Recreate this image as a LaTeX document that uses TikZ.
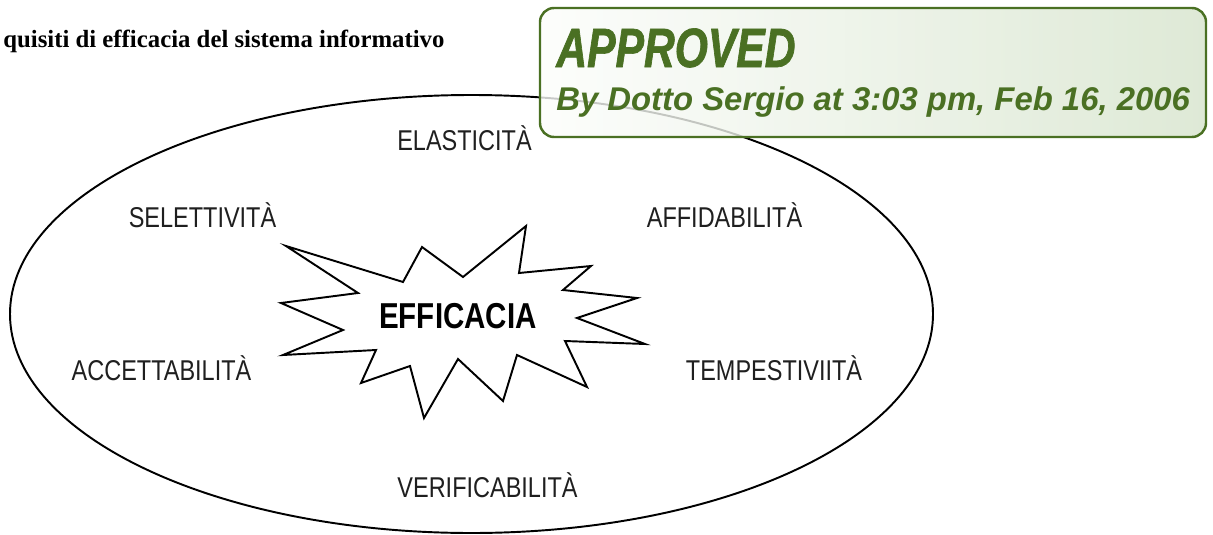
\documentclass[tikz,border=0pt]{standalone}
\usepackage{fontspec}
\setmainfont{Liberation Serif}
\newfontfamily\narrowfont[FakeStretch=0.82]{Liberation Sans}
\newfontfamily\approvedfont[FakeStretch=0.77, FakeBold=1.2]{Liberation Sans}
\newfontfamily\bysansfont{Liberation Sans}
\usepackage{xcolor}
\definecolor{stampgreen}{HTML}{4A7023}
\definecolor{stampfill}{HTML}{D6E4CC}
\usetikzlibrary{positioning}
\tikzset{requisito/.style={anchor=base, inner sep=0pt, text=black!88,
		font=\narrowfont\fontsize{16.3}{18}\selectfont}}

\begin{document}
\begin{tikzpicture}[x=0.02cm, y=-0.02cm]
	\useasboundingbox (0,0) rectangle (1213,534);

	% Title
	\node[anchor=base west, inner sep=0pt, font=\bfseries\fontsize{14.1}{16}\selectfont] (titolo) at (3,47)
	{quisiti di efficacia del sistema informativo};

	% Ellipse
	\draw[line width=1.1pt] (471.5,314) ellipse [x radius=461.5, y radius=219];

	% Starburst
	\draw[line width=1.1pt, fill=white] (286,246) -- (403,282) -- (422,247) -- (463,277) -- (526,226)
	-- (519,273) -- (591,266) -- (563,290) -- (637,298) -- (577,318) -- (645,344)
	-- (565,341) -- (587,387) -- (517,355) -- (503,401) -- (458,359) -- (424,418)
	-- (410,366) -- (361,383) -- (376,350) -- (283,355) -- (343,330) -- (281,303)
	-- (358,293) -- cycle;
	\node[anchor=base, inner sep=0pt, font=\narrowfont\bfseries\fontsize{20.5}{22}\selectfont] (efficacia) at (458,328) {EFFICACIA};

	% Requisiti
	\node[requisito] (elasticita) at (464.5,150) {ELASTICITÀ};
	\node[requisito] (selettivita) at (202.5,227) {SELETTIVITÀ};
	\node[requisito] (affidabilita) at (724.5,227) {AFFIDABILITÀ};
	\node[requisito] (accettabilita) at (161.5,380) {ACCETTABILITÀ};
	\node[requisito] (tempestivita) at (774,380) {TEMPESTIVIITÀ};
	\node[requisito] (verificabilita) at (487.5,497) {VERIFICABILITÀ};

	% Stamp
	\shade[left color=white!92!stampfill, right color=stampfill, fill opacity=0.8,
	draw=stampgreen, draw opacity=1, line width=1.4pt, rounded corners=8pt]
	(540,8) rectangle (1206,137);
	\node[anchor=base west, inner sep=0pt, text=stampgreen,
	font=\approvedfont\bfseries\itshape\fontsize{31.5}{34}\selectfont] (approved) at (556,67) {APPROVED};
	\node[anchor=base west, inner sep=0pt, text=stampgreen,
	font=\bysansfont\bfseries\itshape\fontsize{18.7}{21}\selectfont] (firma) at (556,110)
	{By Dotto Sergio at 3:03 pm, Feb 16, 2006};
\end{tikzpicture}
\end{document}
